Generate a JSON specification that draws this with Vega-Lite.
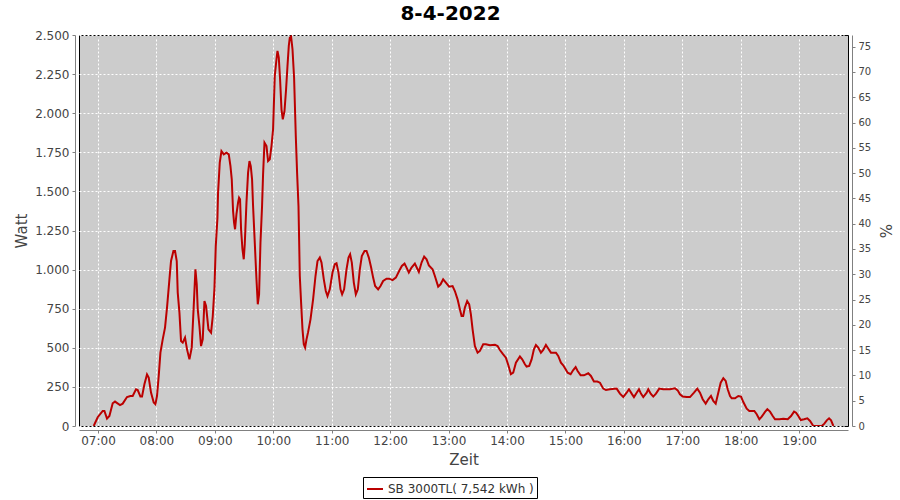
{
  "$schema": "https://vega.github.io/schema/vega-lite/v6.json",
  "autosize": {"type": "none"},
  "padding": {"left": 79, "top": 35, "right": 52, "bottom": 74},
  "width": 769,
  "height": 391,
  "background": "white",
  "title": {
    "text": "8-4-2022",
    "font": "DejaVu Sans",
    "fontSize": 20,
    "fontWeight": "bold",
    "color": "black",
    "anchor": "middle",
    "frame": "group",
    "baseline": "alphabetic",
    "offset": 5,
    "dx": -13,
    "dy": 16
  },
  "config": {
    "locale": {"number": {"decimal": ",", "thousands": ".", "grouping": [3], "currency": ["", " €"]}},
    "font": "DejaVu Sans",
    "view": {"fill": "#cccccc", "stroke": "black", "strokeWidth": 1},
    "axis": {
      "gridColor": "white",
      "gridDash": [2, 2],
      "gridWidth": 1,
      "gridOpacity": 1,
      "domainColor": "#808080",
      "tickColor": "#808080",
      "tickSize": 3,
      "labelFont": "DejaVu Sans",
      "labelFontSize": 12,
      "labelColor": "#444444",
      "titleFont": "DejaVu Sans",
      "titleFontSize": 15,
      "titleFontWeight": "normal",
      "titleColor": "#444444",
      "offset": 4
    }
  },
  "datasets": {
    "pv": [
      {"t": "2022-04-08T06:55:35", "w": 0},
      {"t": "2022-04-08T06:59:42", "w": 56},
      {"t": "2022-04-08T07:04:50", "w": 96},
      {"t": "2022-04-08T07:06:35", "w": 96},
      {"t": "2022-04-08T07:09:15", "w": 47},
      {"t": "2022-04-08T07:11:43", "w": 64},
      {"t": "2022-04-08T07:15:06", "w": 145},
      {"t": "2022-04-08T07:17:28", "w": 156},
      {"t": "2022-04-08T07:22:36", "w": 134},
      {"t": "2022-04-08T07:25:23", "w": 143},
      {"t": "2022-04-08T07:29:48", "w": 185},
      {"t": "2022-04-08T07:33:17", "w": 192},
      {"t": "2022-04-08T07:35:39", "w": 192},
      {"t": "2022-04-08T07:39:02", "w": 235},
      {"t": "2022-04-08T07:40:47", "w": 230},
      {"t": "2022-04-08T07:43:34", "w": 188},
      {"t": "2022-04-08T07:45:12", "w": 188},
      {"t": "2022-04-08T07:47:40", "w": 267},
      {"t": "2022-04-08T07:50:20", "w": 330},
      {"t": "2022-04-08T07:52:05", "w": 310},
      {"t": "2022-04-08T07:54:27", "w": 214},
      {"t": "2022-04-08T07:57:14", "w": 150},
      {"t": "2022-04-08T07:58:58", "w": 139},
      {"t": "2022-04-08T08:00:37", "w": 192},
      {"t": "2022-04-08T08:02:22", "w": 320},
      {"t": "2022-04-08T08:04:07", "w": 469},
      {"t": "2022-04-08T08:06:28", "w": 554},
      {"t": "2022-04-08T08:08:50", "w": 629},
      {"t": "2022-04-08T08:10:53", "w": 757},
      {"t": "2022-04-08T08:13:21", "w": 938},
      {"t": "2022-04-08T08:15:00", "w": 1055},
      {"t": "2022-04-08T08:17:28", "w": 1119},
      {"t": "2022-04-08T08:19:07", "w": 1119},
      {"t": "2022-04-08T08:20:52", "w": 1055},
      {"t": "2022-04-08T08:21:53", "w": 853},
      {"t": "2022-04-08T08:23:38", "w": 725},
      {"t": "2022-04-08T08:25:16", "w": 543},
      {"t": "2022-04-08T08:27:01", "w": 533},
      {"t": "2022-04-08T08:29:23", "w": 565},
      {"t": "2022-04-08T08:31:26", "w": 490},
      {"t": "2022-04-08T08:33:54", "w": 426},
      {"t": "2022-04-08T08:36:16", "w": 501},
      {"t": "2022-04-08T08:38:19", "w": 767},
      {"t": "2022-04-08T08:40:04", "w": 1002},
      {"t": "2022-04-08T08:41:24", "w": 906},
      {"t": "2022-04-08T08:42:26", "w": 746},
      {"t": "2022-04-08T08:44:11", "w": 639},
      {"t": "2022-04-08T08:45:49", "w": 511},
      {"t": "2022-04-08T08:47:34", "w": 554},
      {"t": "2022-04-08T08:49:19", "w": 799},
      {"t": "2022-04-08T08:50:58", "w": 767},
      {"t": "2022-04-08T08:53:26", "w": 618},
      {"t": "2022-04-08T08:56:06", "w": 597},
      {"t": "2022-04-08T08:57:50", "w": 700},
      {"t": "2022-04-08T08:59:35", "w": 880},
      {"t": "2022-04-08T09:00:56", "w": 1150},
      {"t": "2022-04-08T09:02:40", "w": 1330},
      {"t": "2022-04-08T09:03:17", "w": 1490},
      {"t": "2022-04-08T09:05:02", "w": 1684},
      {"t": "2022-04-08T09:06:47", "w": 1758},
      {"t": "2022-04-08T09:09:09", "w": 1737},
      {"t": "2022-04-08T09:11:55", "w": 1748},
      {"t": "2022-04-08T09:14:17", "w": 1737},
      {"t": "2022-04-08T09:16:02", "w": 1662},
      {"t": "2022-04-08T09:17:22", "w": 1577},
      {"t": "2022-04-08T09:18:42", "w": 1375},
      {"t": "2022-04-08T09:19:44", "w": 1300},
      {"t": "2022-04-08T09:20:45", "w": 1258},
      {"t": "2022-04-08T09:22:11", "w": 1354},
      {"t": "2022-04-08T09:23:50", "w": 1428},
      {"t": "2022-04-08T09:24:52", "w": 1460},
      {"t": "2022-04-08T09:25:53", "w": 1450},
      {"t": "2022-04-08T09:26:55", "w": 1258},
      {"t": "2022-04-08T09:28:21", "w": 1130},
      {"t": "2022-04-08T09:29:41", "w": 1066},
      {"t": "2022-04-08T09:30:43", "w": 1162},
      {"t": "2022-04-08T09:32:28", "w": 1428},
      {"t": "2022-04-08T09:34:07", "w": 1620},
      {"t": "2022-04-08T09:35:33", "w": 1694},
      {"t": "2022-04-08T09:36:53", "w": 1662},
      {"t": "2022-04-08T09:38:13", "w": 1577},
      {"t": "2022-04-08T09:39:15", "w": 1407},
      {"t": "2022-04-08T09:40:59", "w": 1173},
      {"t": "2022-04-08T09:42:44", "w": 938},
      {"t": "2022-04-08T09:44:05", "w": 778},
      {"t": "2022-04-08T09:45:25", "w": 842},
      {"t": "2022-04-08T09:46:51", "w": 1173},
      {"t": "2022-04-08T09:48:29", "w": 1407},
      {"t": "2022-04-08T09:49:31", "w": 1609},
      {"t": "2022-04-08T09:50:58", "w": 1812},
      {"t": "2022-04-08T09:53:01", "w": 1790},
      {"t": "2022-04-08T09:54:40", "w": 1694},
      {"t": "2022-04-08T09:56:24", "w": 1705},
      {"t": "2022-04-08T09:58:09", "w": 1790},
      {"t": "2022-04-08T09:59:48", "w": 1897},
      {"t": "2022-04-08T10:01:32", "w": 2238},
      {"t": "2022-04-08T10:03:17", "w": 2345},
      {"t": "2022-04-08T10:04:19", "w": 2398},
      {"t": "2022-04-08T10:05:39", "w": 2356},
      {"t": "2022-04-08T10:06:59", "w": 2217},
      {"t": "2022-04-08T10:08:26", "w": 2025},
      {"t": "2022-04-08T10:09:46", "w": 1961},
      {"t": "2022-04-08T10:11:31", "w": 2014},
      {"t": "2022-04-08T10:13:09", "w": 2153},
      {"t": "2022-04-08T10:14:35", "w": 2302},
      {"t": "2022-04-08T10:15:56", "w": 2430},
      {"t": "2022-04-08T10:16:57", "w": 2483},
      {"t": "2022-04-08T10:18:17", "w": 2490},
      {"t": "2022-04-08T10:19:44", "w": 2409},
      {"t": "2022-04-08T10:21:22", "w": 2228},
      {"t": "2022-04-08T10:23:07", "w": 1854},
      {"t": "2022-04-08T10:24:27", "w": 1620},
      {"t": "2022-04-08T10:25:53", "w": 1407},
      {"t": "2022-04-08T10:27:14", "w": 959},
      {"t": "2022-04-08T10:28:34", "w": 789},
      {"t": "2022-04-08T10:30:00", "w": 618},
      {"t": "2022-04-08T10:31:20", "w": 522},
      {"t": "2022-04-08T10:32:40", "w": 501},
      {"t": "2022-04-08T10:34:07", "w": 554},
      {"t": "2022-04-08T10:35:45", "w": 600},
      {"t": "2022-04-08T10:38:13", "w": 682},
      {"t": "2022-04-08T10:40:53", "w": 810},
      {"t": "2022-04-08T10:43:21", "w": 959},
      {"t": "2022-04-08T10:45:25", "w": 1055},
      {"t": "2022-04-08T10:47:46", "w": 1077},
      {"t": "2022-04-08T10:49:31", "w": 1045},
      {"t": "2022-04-08T10:51:53", "w": 938},
      {"t": "2022-04-08T10:53:56", "w": 863},
      {"t": "2022-04-08T10:55:41", "w": 831},
      {"t": "2022-04-08T10:58:02", "w": 874},
      {"t": "2022-04-08T11:00:49", "w": 981},
      {"t": "2022-04-08T11:03:11", "w": 1034},
      {"t": "2022-04-08T11:04:56", "w": 1040},
      {"t": "2022-04-08T11:06:59", "w": 981},
      {"t": "2022-04-08T11:09:02", "w": 874},
      {"t": "2022-04-08T11:10:41", "w": 842},
      {"t": "2022-04-08T11:12:44", "w": 874},
      {"t": "2022-04-08T11:15:12", "w": 1002},
      {"t": "2022-04-08T11:17:16", "w": 1077},
      {"t": "2022-04-08T11:18:54", "w": 1098},
      {"t": "2022-04-08T11:20:39", "w": 1045},
      {"t": "2022-04-08T11:22:42", "w": 917},
      {"t": "2022-04-08T11:24:46", "w": 842},
      {"t": "2022-04-08T11:26:49", "w": 874},
      {"t": "2022-04-08T11:28:52", "w": 1002},
      {"t": "2022-04-08T11:30:55", "w": 1087},
      {"t": "2022-04-08T11:33:42", "w": 1119},
      {"t": "2022-04-08T11:35:45", "w": 1119},
      {"t": "2022-04-08T11:38:07", "w": 1077},
      {"t": "2022-04-08T11:40:29", "w": 1013},
      {"t": "2022-04-08T11:42:32", "w": 949},
      {"t": "2022-04-08T11:44:35", "w": 895},
      {"t": "2022-04-08T11:47:40", "w": 874},
      {"t": "2022-04-08T11:50:08", "w": 895},
      {"t": "2022-04-08T11:52:49", "w": 927},
      {"t": "2022-04-08T11:56:18", "w": 942},
      {"t": "2022-04-08T11:58:58", "w": 942},
      {"t": "2022-04-08T12:02:28", "w": 933},
      {"t": "2022-04-08T12:05:52", "w": 949},
      {"t": "2022-04-08T12:09:15", "w": 991},
      {"t": "2022-04-08T12:12:01", "w": 1023},
      {"t": "2022-04-08T12:14:48", "w": 1038},
      {"t": "2022-04-08T12:16:51", "w": 1013},
      {"t": "2022-04-08T12:19:13", "w": 981},
      {"t": "2022-04-08T12:21:59", "w": 1013},
      {"t": "2022-04-08T12:25:23", "w": 1038},
      {"t": "2022-04-08T12:28:09", "w": 1002},
      {"t": "2022-04-08T12:29:29", "w": 985},
      {"t": "2022-04-08T12:32:16", "w": 1045},
      {"t": "2022-04-08T12:34:56", "w": 1083},
      {"t": "2022-04-08T12:37:24", "w": 1066},
      {"t": "2022-04-08T12:39:46", "w": 1027},
      {"t": "2022-04-08T12:43:34", "w": 1002},
      {"t": "2022-04-08T12:45:56", "w": 959},
      {"t": "2022-04-08T12:49:19", "w": 891},
      {"t": "2022-04-08T12:51:47", "w": 906},
      {"t": "2022-04-08T12:54:27", "w": 938},
      {"t": "2022-04-08T12:57:14", "w": 917},
      {"t": "2022-04-08T13:00:37", "w": 891},
      {"t": "2022-04-08T13:04:07", "w": 895},
      {"t": "2022-04-08T13:06:28", "w": 863},
      {"t": "2022-04-08T13:09:15", "w": 810},
      {"t": "2022-04-08T13:11:37", "w": 746},
      {"t": "2022-04-08T13:13:21", "w": 703},
      {"t": "2022-04-08T13:15:00", "w": 703},
      {"t": "2022-04-08T13:16:45", "w": 757},
      {"t": "2022-04-08T13:19:07", "w": 799},
      {"t": "2022-04-08T13:21:10", "w": 778},
      {"t": "2022-04-08T13:22:55", "w": 714},
      {"t": "2022-04-08T13:24:40", "w": 618},
      {"t": "2022-04-08T13:27:01", "w": 511},
      {"t": "2022-04-08T13:29:48", "w": 469},
      {"t": "2022-04-08T13:32:10", "w": 480},
      {"t": "2022-04-08T13:35:33", "w": 522},
      {"t": "2022-04-08T13:38:19", "w": 522},
      {"t": "2022-04-08T13:42:26", "w": 516},
      {"t": "2022-04-08T13:47:34", "w": 520},
      {"t": "2022-04-08T13:50:20", "w": 511},
      {"t": "2022-04-08T13:52:43", "w": 486},
      {"t": "2022-04-08T13:56:06", "w": 458},
      {"t": "2022-04-08T13:58:52", "w": 437},
      {"t": "2022-04-08T14:01:39", "w": 384},
      {"t": "2022-04-08T14:04:01", "w": 331},
      {"t": "2022-04-08T14:06:23", "w": 341},
      {"t": "2022-04-08T14:09:09", "w": 405},
      {"t": "2022-04-08T14:13:16", "w": 444},
      {"t": "2022-04-08T14:15:37", "w": 426},
      {"t": "2022-04-08T14:18:24", "w": 395},
      {"t": "2022-04-08T14:20:08", "w": 380},
      {"t": "2022-04-08T14:22:49", "w": 384},
      {"t": "2022-04-08T14:25:17", "w": 426},
      {"t": "2022-04-08T14:27:38", "w": 490},
      {"t": "2022-04-08T14:29:42", "w": 518},
      {"t": "2022-04-08T14:32:04", "w": 501},
      {"t": "2022-04-08T14:34:50", "w": 469},
      {"t": "2022-04-08T14:37:12", "w": 486},
      {"t": "2022-04-08T14:39:58", "w": 518},
      {"t": "2022-04-08T14:42:20", "w": 495},
      {"t": "2022-04-08T14:45:07", "w": 469},
      {"t": "2022-04-08T14:50:15", "w": 469},
      {"t": "2022-04-08T14:52:36", "w": 448},
      {"t": "2022-04-08T14:55:23", "w": 405},
      {"t": "2022-04-08T14:57:44", "w": 388},
      {"t": "2022-04-08T15:00:13", "w": 363},
      {"t": "2022-04-08T15:02:16", "w": 341},
      {"t": "2022-04-08T15:05:21", "w": 331},
      {"t": "2022-04-08T15:08:01", "w": 358},
      {"t": "2022-04-08T15:10:29", "w": 377},
      {"t": "2022-04-08T15:12:32", "w": 352},
      {"t": "2022-04-08T15:15:37", "w": 324},
      {"t": "2022-04-08T15:19:01", "w": 324},
      {"t": "2022-04-08T15:23:26", "w": 337},
      {"t": "2022-04-08T15:26:12", "w": 320},
      {"t": "2022-04-08T15:29:17", "w": 284},
      {"t": "2022-04-08T15:32:40", "w": 284},
      {"t": "2022-04-08T15:35:27", "w": 277},
      {"t": "2022-04-08T15:38:50", "w": 239},
      {"t": "2022-04-08T15:41:37", "w": 230},
      {"t": "2022-04-08T15:45:43", "w": 235},
      {"t": "2022-04-08T15:52:36", "w": 239},
      {"t": "2022-04-08T15:55:59", "w": 207},
      {"t": "2022-04-08T15:59:23", "w": 185},
      {"t": "2022-04-08T16:02:52", "w": 213},
      {"t": "2022-04-08T16:05:14", "w": 235},
      {"t": "2022-04-08T16:08:01", "w": 207},
      {"t": "2022-04-08T16:10:22", "w": 185},
      {"t": "2022-04-08T16:13:09", "w": 213},
      {"t": "2022-04-08T16:15:31", "w": 235},
      {"t": "2022-04-08T16:17:34", "w": 207},
      {"t": "2022-04-08T16:19:56", "w": 185},
      {"t": "2022-04-08T16:23:25", "w": 213},
      {"t": "2022-04-08T16:25:04", "w": 235},
      {"t": "2022-04-08T16:27:32", "w": 207},
      {"t": "2022-04-08T16:30:12", "w": 188},
      {"t": "2022-04-08T16:32:58", "w": 207},
      {"t": "2022-04-08T16:36:22", "w": 239},
      {"t": "2022-04-08T16:40:28", "w": 235},
      {"t": "2022-04-08T16:47:21", "w": 235},
      {"t": "2022-04-08T16:52:29", "w": 241},
      {"t": "2022-04-08T16:55:16", "w": 228},
      {"t": "2022-04-08T16:57:37", "w": 203},
      {"t": "2022-04-08T17:00:24", "w": 188},
      {"t": "2022-04-08T17:04:31", "w": 185},
      {"t": "2022-04-08T17:07:54", "w": 185},
      {"t": "2022-04-08T17:12:01", "w": 213},
      {"t": "2022-04-08T17:15:24", "w": 239},
      {"t": "2022-04-08T17:18:10", "w": 213},
      {"t": "2022-04-08T17:20:57", "w": 171},
      {"t": "2022-04-08T17:24:02", "w": 143},
      {"t": "2022-04-08T17:26:42", "w": 171},
      {"t": "2022-04-08T17:29:28", "w": 192},
      {"t": "2022-04-08T17:31:50", "w": 160},
      {"t": "2022-04-08T17:34:18", "w": 143},
      {"t": "2022-04-08T17:36:58", "w": 213},
      {"t": "2022-04-08T17:39:26", "w": 277},
      {"t": "2022-04-08T17:42:08", "w": 305},
      {"t": "2022-04-08T17:44:35", "w": 288},
      {"t": "2022-04-08T17:46:38", "w": 235},
      {"t": "2022-04-08T17:49:01", "w": 192},
      {"t": "2022-04-08T17:50:45", "w": 177},
      {"t": "2022-04-08T17:54:08", "w": 177},
      {"t": "2022-04-08T17:57:32", "w": 192},
      {"t": "2022-04-08T18:00:18", "w": 188},
      {"t": "2022-04-08T18:02:40", "w": 153},
      {"t": "2022-04-08T18:06:10", "w": 111},
      {"t": "2022-04-08T18:08:50", "w": 96},
      {"t": "2022-04-08T18:13:58", "w": 96},
      {"t": "2022-04-08T18:16:26", "w": 75},
      {"t": "2022-04-08T18:19:07", "w": 43},
      {"t": "2022-04-08T18:21:35", "w": 60},
      {"t": "2022-04-08T18:24:58", "w": 90},
      {"t": "2022-04-08T18:27:20", "w": 107},
      {"t": "2022-04-08T18:30:07", "w": 92},
      {"t": "2022-04-08T18:32:53", "w": 64},
      {"t": "2022-04-08T18:35:14", "w": 43},
      {"t": "2022-04-08T18:39:40", "w": 43},
      {"t": "2022-04-08T18:43:46", "w": 47},
      {"t": "2022-04-08T18:48:17", "w": 43},
      {"t": "2022-04-08T18:51:41", "w": 64},
      {"t": "2022-04-08T18:54:46", "w": 92},
      {"t": "2022-04-08T18:56:49", "w": 85},
      {"t": "2022-04-08T18:59:11", "w": 64},
      {"t": "2022-04-08T19:01:38", "w": 38},
      {"t": "2022-04-08T19:05:02", "w": 43},
      {"t": "2022-04-08T19:08:26", "w": 49},
      {"t": "2022-04-08T19:11:12", "w": 32},
      {"t": "2022-04-08T19:14:35", "w": 0},
      {"t": "2022-04-08T19:23:13", "w": 0},
      {"t": "2022-04-08T19:25:53", "w": 15},
      {"t": "2022-04-08T19:28:22", "w": 36},
      {"t": "2022-04-08T19:30:43", "w": 49},
      {"t": "2022-04-08T19:32:47", "w": 36},
      {"t": "2022-04-08T19:35:08", "w": 0}
    ],
    "pct": [{"p": 0}, {"p": 75}]
  },
  "layer": [
    {
      "data": {"name": "pv"},
      "mark": {"type": "line", "strokeWidth": 2, "interpolate": "linear", "clip": true},
      "encoding": {
        "x": {
          "field": "t",
          "type": "temporal",
          "title": "Zeit",
          "scale": {
            "domain": [
              {"year": 2022, "month": 4, "date": 8, "hours": 6, "minutes": 40, "seconds": 30},
              {"year": 2022, "month": 4, "date": 8, "hours": 19, "minutes": 50, "seconds": 10}
            ],
            "nice": false
          },
          "axis": {
            "format": "%H:%M",
            "values": [
              {"year": 2022, "month": 4, "date": 8, "hours": 7},
              {"year": 2022, "month": 4, "date": 8, "hours": 8},
              {"year": 2022, "month": 4, "date": 8, "hours": 9},
              {"year": 2022, "month": 4, "date": 8, "hours": 10},
              {"year": 2022, "month": 4, "date": 8, "hours": 11},
              {"year": 2022, "month": 4, "date": 8, "hours": 12},
              {"year": 2022, "month": 4, "date": 8, "hours": 13},
              {"year": 2022, "month": 4, "date": 8, "hours": 14},
              {"year": 2022, "month": 4, "date": 8, "hours": 15},
              {"year": 2022, "month": 4, "date": 8, "hours": 16},
              {"year": 2022, "month": 4, "date": 8, "hours": 17},
              {"year": 2022, "month": 4, "date": 8, "hours": 18},
              {"year": 2022, "month": 4, "date": 8, "hours": 19}
            ],
            "labelPadding": 2,
            "titlePadding": 6,
            "labelFlush": false,
            "labelOverlap": false
          }
        },
        "y": {
          "field": "w",
          "type": "quantitative",
          "title": "Watt",
          "scale": {"domain": [0, 2500], "nice": false, "zero": true},
          "axis": {
            "values": [0, 250, 500, 750, 1000, 1250, 1500, 1750, 2000, 2250, 2500],
            "format": ",.0f",
            "labelPadding": 3,
            "titlePadding": 5,
            "labelFlush": false
          }
        },
        "color": {
          "datum": "SB 3000TL( 7,542 kWh )",
          "type": "nominal",
          "scale": {"range": ["#bb0000"]},
          "legend": {
            "title": null,
            "orient": "none",
            "legendX": 284,
            "legendY": 442,
            "strokeColor": "black",
            "padding": 3,
            "symbolType": "stroke",
            "symbolSize": 256,
            "symbolStrokeWidth": 2,
            "labelFont": "DejaVu Sans",
            "labelFontSize": 12,
            "labelColor": "#333333",
            "labelOffset": 4
          }
        }
      }
    },
    {
      "data": {"name": "pct"},
      "mark": {"type": "point", "opacity": 0},
      "encoding": {
        "y": {
          "field": "p",
          "type": "quantitative",
          "title": "%",
          "scale": {"domain": [0, 77.3], "nice": false},
          "axis": {
            "orient": "right",
            "grid": false,
            "values": [0, 5, 10, 15, 20, 25, 30, 35, 40, 45, 50, 55, 60, 65, 70, 75],
            "labelFontSize": 10,
            "labelPadding": 3,
            "titlePadding": 6,
            "labelFlush": false
          }
        }
      }
    }
  ],
  "resolve": {"scale": {"y": "independent"}}
}
